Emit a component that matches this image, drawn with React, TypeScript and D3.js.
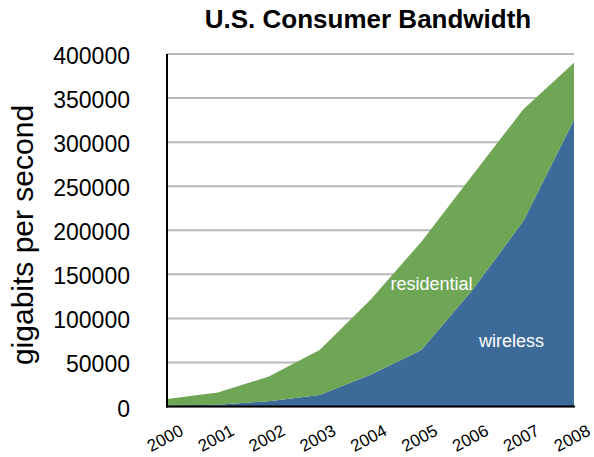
import React from "react";
import * as d3 from "d3";

const years = [2000, 2001, 2002, 2003, 2004, 2005, 2006, 2007, 2008];
const wireless = [1000, 2000, 6000, 13000, 36000, 64000, 132000, 210000, 325000];
const residential = [7500, 14000, 28000, 51000, 85000, 123000, 130000, 127000, 65000];
const yTicks = [0, 50000, 100000, 150000, 200000, 250000, 300000, 350000, 400000];
const title = "U.S. Consumer Bandwidth";
const yTitle = "gigabits per second";
const seriesKeys = ["wireless", "residential"];
const seriesColors = ["#3c6a99", "#6ea656"];

const W = 594;
const H = 457;
const FONT = "'Liberation Sans', Arial, Helvetica, sans-serif";

export default function App() {
  const x = d3.scaleLinear().domain([2000, 2008]).range([167, 574]);
  const y = d3.scaleLinear().domain([0, 400000]).range([406.5, 54]);

  const rows = years.map((yr, i) => ({ year: yr, wireless: wireless[i], residential: residential[i] }));
  const stacked = d3.stack<any>().keys(seriesKeys)(rows);
  const area = d3
    .area<any>()
    .x((d) => x(d.data.year))
    .y0((d) => y(d[0]))
    .y1((d) => y(d[1]));

  return (
    <svg width={W} height={H} style={{ position: "absolute", left: 0, top: 0, background: "#fff" }} fontFamily={FONT}>
      <rect x={0} y={0} width={W} height={H} fill="#fff" />
      {yTicks.map((t) => (
        <line key={"g" + t} x1={x(2000)} x2={x(2008)} y1={y(t)} y2={y(t)} stroke="#b9b9b9" strokeWidth={2} />
      ))}
      {stacked.map((s, i) => (
        <path key={s.key} d={area(s) || ""} fill={seriesColors[i]} />
      ))}
      <line x1={x(2000)} x2={x(2000)} y1={y(400000)} y2={y(0) + 1} stroke="#000" strokeWidth={2} />
      <line x1={x(2000) - 1} x2={x(2008) + 1} y1={y(0)} y2={y(0)} stroke="#000" strokeWidth={2} />
      {yTicks.map((t) => (
        <text key={"t" + t} x={130} y={y(t) + 10} textAnchor="end" fontSize={23} fill="#000">
          {t}
        </text>
      ))}
      {years.map((yr) => (
        <text
          key={"x" + yr}
          transform={`translate(${x(yr) - 2},438) rotate(-28)`}
          textAnchor="middle"
          dy="0.35em"
          fontSize={17}
          fill="#000"
        >
          {yr}
        </text>
      ))}
      <text x={368} y={28} textAnchor="middle" fontSize={26} fontWeight="bold" fill="#000">
        {title}
      </text>
      <text transform="translate(33,235) rotate(-90)" textAnchor="middle" fontSize={30} fill="#000">
        {yTitle}
      </text>
      <text x={431.5} y={290} textAnchor="middle" fontSize={18} fill="#fff">
        residential
      </text>
      <text x={511.5} y={347} textAnchor="middle" fontSize={18} fill="#fff">
        wireless
      </text>
    </svg>
  );
}
